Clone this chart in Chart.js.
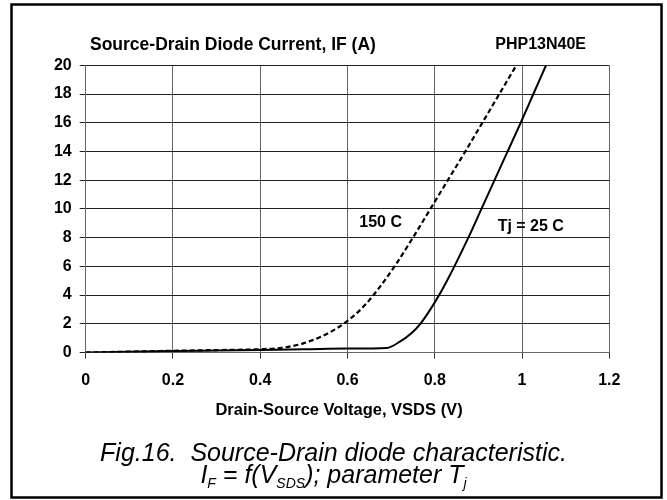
<!DOCTYPE html>
<html>
<head>
<meta charset="utf-8">
<script src="https://cdn.jsdelivr.net/npm/chart.js@4.4.0/dist/chart.umd.min.js"></script>
<style>
html,body{margin:0;padding:0;background:#fff;}
#wrap{position:relative;width:667px;height:500px;overflow:hidden;}
#c{position:absolute;left:0;top:0;}
#cap{position:absolute;left:0;width:667px;top:441px;text-align:center;font-family:"Liberation Sans",Arial,sans-serif;font-style:italic;font-size:25px;line-height:22px;color:#000;}
#cap sub{font-size:14px;line-height:0;vertical-align:-5px;}
</style>
</head>
<body>
<div id="wrap">
<canvas id="c" width="667" height="500" style="width:667px;height:500px;"></canvas>
<div id="cap">Fig.16.&nbsp; Source-Drain diode characteristic.<br>I<sub>F</sub> = f(V<sub>SDS</sub>); parameter T<sub>j</sub></div>
</div>
<script>
// ---- data ----
const vTj25 = [0, 0.1, 0.2, 0.3, 0.4, 0.5, 0.6, 0.69, 0.72, 0.745, 0.767, 0.79, 0.81, 0.828, 0.845, 0.877, 0.907, 0.937, 0.967, 0.997, 1.026, 1.055];
const iTj25 = [0, 0.05, 0.1, 0.14, 0.18, 0.22, 0.27, 0.32, 0.75, 1.3, 2.0, 3.0, 4.0, 5.0, 6.0, 8.0, 10, 12, 14, 16, 18, 20];
const v150 = [0, 0.1, 0.2, 0.3, 0.4, 0.45, 0.5, 0.55, 0.6, 0.64, 0.675, 0.71, 0.75, 0.79, 0.83, 0.87, 0.909, 0.948, 0.987];
const i150 = [0, 0.06, 0.12, 0.17, 0.23, 0.33, 0.65, 1.25, 2.2, 3.3, 4.6, 6.1, 8.0, 10, 12, 14, 16, 18, 20];
const xTickLabels = ['0', '0.2', '0.4', '0.6', '0.8', '1', '1.2'];
const yTickLabels = ['0', '2', '4', '6', '8', '10', '12', '14', '16', '18', '20'];
const seriesNames = ['Tj = 25 C', '150 C'];
const yTitle = 'Source-Drain Diode Current, IF (A)';
const partName = 'PHP13N40E';
const xTitle = 'Drain-Source Voltage, VSDS (V)';

const FONT = '"Liberation Sans", Arial, sans-serif';
const toPts = (xs, ys) => xs.map((x, i) => ({x: x, y: ys[i]}));

// label anchors in data coordinates
const seriesLabelAnchors = [{x: 1.02, y: 8.8}, {x: 0.676, y: 9.05}];

const decor = {
  id: 'decor',
  beforeDraw(chart) {
    const c = chart.ctx;
    c.save();
    c.fillStyle = '#fff';
    c.fillRect(0, 0, chart.width, chart.height);
    c.restore();
  },
  afterDraw(chart) {
    const c = chart.ctx;
    const xs = chart.scales.x, ys = chart.scales.y;
    c.save();
    c.strokeStyle = '#000';
    c.lineWidth = 2.5;
    c.strokeRect(11.5, 4.5, 650, 493);
    c.fillStyle = '#000';
    c.textBaseline = 'middle';
    c.font = 'bold 17.5px ' + FONT;
    c.textAlign = 'left';
    c.fillText(yTitle, 90, 45);
    c.font = 'bold 16px ' + FONT;
    c.textAlign = 'right';
    c.fillText(partName, 586, 45);
    c.textAlign = 'center';
    c.font = 'bold 16.5px ' + FONT;
    c.fillText(xTitle, 339, 410);
    c.font = 'bold 16px ' + FONT;
    seriesNames.forEach((n, i) => {
      const a = seriesLabelAnchors[i];
      c.fillText(n, xs.getPixelForValue(a.x), ys.getPixelForValue(a.y));
    });
    c.restore();
  }
};

const tickFont = {family: FONT, size: 16, weight: 'bold'};

new Chart(document.getElementById('c'), {
  type: 'scatter',
  data: {
    datasets: [
      {label: seriesNames[0], data: toPts(vTj25, iTj25), showLine: true, borderColor: '#000', borderWidth: 2, pointRadius: 0, cubicInterpolationMode: 'monotone', fill: false},
      {label: seriesNames[1], data: toPts(v150, i150), showLine: true, borderColor: '#000', borderWidth: 2.2, borderDash: [5, 3], pointRadius: 0, cubicInterpolationMode: 'monotone', fill: false}
    ]
  },
  options: {
    responsive: false,
    animation: false,
    devicePixelRatio: 1,
    layout: {padding: {left: 0, right: 57.7, top: 65.3, bottom: 0}},
    plugins: {legend: {display: false}, tooltip: {enabled: false}, title: {display: false}},
    scales: {
      x: {
        type: 'linear', min: 0, max: 1.2,
        ticks: {stepSize: 0.2, autoSkip: false, maxRotation: 0, color: '#000', font: tickFont, padding: 12,
          callback: (v, i) => xTickLabels[i]},
        grid: {color: '#666', lineWidth: 1, tickLength: 6, tickColor: '#333'},
        border: {color: '#666', width: 1},
        afterFit: s => { s.height = 147.5; }
      },
      y: {
        type: 'linear', min: 0, max: 20,
        ticks: {stepSize: 2, autoSkip: false, color: '#000', font: tickFont, padding: 8,
          callback: (v, i) => yTickLabels[i]},
        grid: {color: '#222', lineWidth: 1, tickLength: 6, tickColor: '#222'},
        border: {color: '#666', width: 1},
        afterFit: s => { s.width = 85.7; }
      }
    }
  },
  plugins: [decor]
});
</script>
</body>
</html>
